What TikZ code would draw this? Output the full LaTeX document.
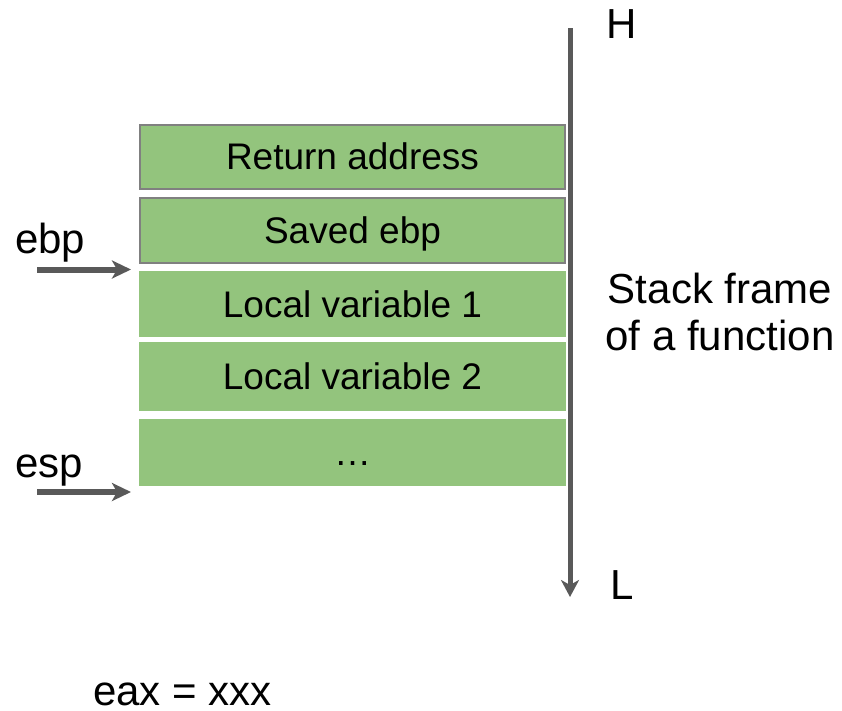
\documentclass[tikz,border=0pt]{standalone}
\usepackage{fontspec}
\setmainfont{Liberation Sans}
\usetikzlibrary{arrows.meta}
\definecolor{cellgreen}{HTML}{93C47D}
\definecolor{cellborder}{HTML}{808080}
\definecolor{arrowgray}{HTML}{595959}
\begin{document}
\begin{tikzpicture}[x=1pt,y=-1pt,
  cell/.style={rectangle, fill=cellgreen, inner sep=0pt, minimum width=427pt,
    text height=26pt, text depth=0pt, font=\fontsize{37}{44}\selectfont},
  framed/.style={draw=cellborder, line width=2pt, minimum width=425pt},
  biglabel/.style={inner sep=0pt, font=\fontsize{42}{47}\selectfont},
  pointer/.style={draw=arrowgray, line width=6pt,
    -{Stealth[length=19pt,width=18pt,inset=5pt]}},
  axis/.style={draw=arrowgray, line width=5pt,
    -{Stealth[length=17pt,width=18pt,inset=5pt]}}]
\useasboundingbox (0,0) rectangle (842,710);

% stack cells
\node[cell, framed, minimum height=64pt] (ret) at (352.5,156.5) {Return address};
\node[cell, framed, minimum height=65pt] (saved) at (352.5,230.5) {Saved ebp};
\node[cell, minimum height=66pt] (lv1) at (352.5,304) {Local variable 1};
\node[cell, minimum height=69pt] (lv2) at (352.5,376.5) {Local variable 2};
\node[cell, minimum height=67pt] (rest) at (352.5,452.5) {…};

% address axis
\coordinate (axtop) at (570,28);
\coordinate (axbot) at (570,597);
\draw[axis] (axtop) -- (axbot);
\node[biglabel, anchor=base] (high) at (622,38) {H};
\node[biglabel, anchor=base] (low) at (622,599) {L};

\node[biglabel, align=center, anchor=base] (frame) at (720,350)
  {Stack frame\\of a function};

% register pointers
\node[biglabel, anchor=base west] (ebp) at (15,253) {ebp};
\coordinate (ebpfrom) at (37,269.5);
\coordinate (ebpto) at (131,269.5);
\draw[pointer] (ebpfrom) -- (ebpto);

\node[biglabel, anchor=base west] (esp) at (15,477) {esp};
\coordinate (espfrom) at (37,492);
\coordinate (espto) at (131,492);
\draw[pointer] (espfrom) -- (espto);

\node[biglabel, anchor=base west] (eax) at (93,705) {eax = xxx};
\end{tikzpicture}
\end{document}
